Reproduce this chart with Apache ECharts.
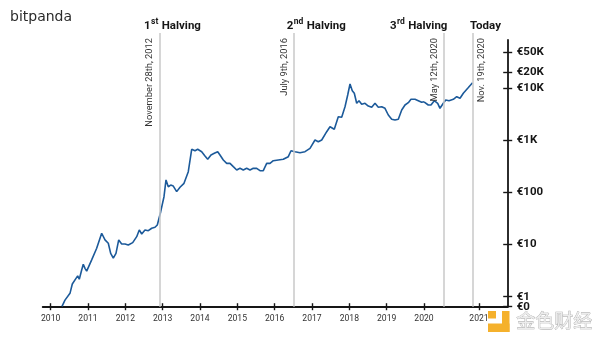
<!DOCTYPE html>
<html>
<head>
<meta charset="utf-8">
<script src="https://cdn.jsdelivr.net/npm/echarts@6/dist/echarts.min.js"></script>
<style>
  html, body { margin: 0; padding: 0; background: #ffffff; }
  #chart { width: 600px; height: 338px; }
</style>
</head>
<body>
<div id="chart"></div>
<script>
// Bitcoin price in euro, decimal-year dates (log price scale)
const dates = [
  2010.303, 2010.383, 2010.517, 2010.579, 2010.678, 2010.723, 2010.766, 2010.830, 2010.873, 2010.919, 2010.964,
  2011.098, 2011.232, 2011.366, 2011.455, 2011.543, 2011.607, 2011.677, 2011.749, 2011.822, 2011.902, 2011.990,
  2012.079, 2012.197, 2012.304, 2012.373, 2012.438, 2012.526, 2012.615, 2012.706, 2012.794, 2012.856, 2012.947,
  2013.035, 2013.089, 2013.150, 2013.215, 2013.284, 2013.375, 2013.464, 2013.571, 2013.686, 2013.777, 2013.866, 2013.938,
  2014.045, 2014.133, 2014.206, 2014.294, 2014.383, 2014.474, 2014.535, 2014.624, 2014.715, 2014.803, 2014.892, 2014.983,
  2015.071, 2015.159, 2015.250, 2015.339, 2015.427, 2015.518, 2015.607, 2015.695, 2015.786, 2015.875, 2015.963,
  2016.097, 2016.231, 2016.365, 2016.437, 2016.544, 2016.678, 2016.812, 2016.946,
  2017.080, 2017.169, 2017.260, 2017.394, 2017.482, 2017.597, 2017.704, 2017.795, 2017.884, 2017.956,
  2018.018, 2018.079, 2018.133, 2018.197, 2018.259, 2018.331, 2018.420, 2018.508, 2018.599, 2018.688, 2018.776, 2018.867, 2018.955,
  2019.044, 2019.135, 2019.223, 2019.312, 2019.403, 2019.491, 2019.580, 2019.652, 2019.759, 2019.847, 2019.938,
  2020.000, 2020.018, 2020.078, 2020.127, 2020.187, 2020.249, 2020.291, 2020.351, 2020.395, 2020.455, 2020.533, 2020.595, 2020.655, 2020.715, 2020.795, 2020.883
];
const pricesEur = [
  0.65, 0.86, 1.16, 1.75, 2.25, 2.5, 2.16, 3.25, 4.2, 3.5, 3.1,
  5.1, 8.5, 16.5, 12.3, 10.6, 6.8, 5.5, 6.8, 12.3, 10.3, 10.3,
  9.8, 10.9, 14.2, 19.1, 16.0, 19.1, 18.5, 20.6, 21.5, 23.8, 42.8,
  83, 174, 129, 139, 133, 104, 126, 150, 251, 675, 634, 675,
  607, 502, 434, 525, 565, 607, 525, 421, 363, 363, 313, 270,
  291, 270, 291, 270, 291, 291, 262, 262, 363, 363, 408,
  421, 434, 487, 634, 607, 581, 607, 705,
  1018, 944, 1018, 1469, 1832, 1633, 2851, 2775, 4434, 7434,
  12100, 8995, 8017, 5153, 5781, 4932, 5153, 4571, 4317, 5153, 4317, 4434, 4130,
  3073, 2541, 2464, 2541, 3830, 4780, 5293, 6150, 6150, 5781, 5385,
  5510, 5530, 4780, 4780, 5781, 5153, 4130, 5153, 5960, 5781, 6150, 6900, 6430, 8017, 10000, 12800
];

const earlyYearTicks = [2010, 2011, 2012, 2013, 2014, 2015, 2016, 2017, 2018, 2019];
const lateYearTicks = [2020, 2021];
const priceTicks = [1, 10, 100, 1000, 10000, 20000, 50000];
const floorTick = [0.643];

const halvingDates = [2012.907, 2016.519, 2020.361];
const halvingNotes = ['November 28th, 2012', 'July 9th, 2016', 'May 12th, 2020'];
const halvingOrdinals = [['1', 'st'], ['2', 'nd'], ['3', 'rd']];
const todayDate = 2020.883;
const todayNote = 'Nov. 19th, 2020';

// The time axis is drawn in two stretches: up to 2020, and the last year widened.
const X_START = 2009.786, X_BREAK = 2020, X_END = 2021.522;
const Y_MIN = 0.6426, Y_MAX = 115240;
// same log scale, cut a little lower: only used for the visible price-axis spine
const Y_SPINE_MAX = 84560;

const early = [], late = [];
dates.forEach((d, i) => {
  if (d <= X_BREAK) early.push([d, pricesEur[i]]);
  if (d >= X_BREAK) late.push([d, pricesEur[i]]);
});

const INK = '#161616';
const LINE_BLUE = '#1c5a9a';
const GUIDE = '#c9c9c9';

// heading text: superscript ordinals raised with bottom padding
const headingRich = {
  n: { fontFamily: 'Roboto', fontWeight: 'bold', fontSize: 11.5, lineHeight: 14, color: INK },
  s: { fontFamily: 'Roboto', fontWeight: 'bold', fontSize: 8.5, lineHeight: 10, padding: [0, 0.5, 9, 0.5], color: INK }
};
const headingShift = [-15.2, -7.4, -53.9, -2.6];

function heading(date, text, shift) {
  return {
    coord: [date, 110000],
    label: { formatter: text, offset: [shift, 0] }
  };
}
function ordinalText(i) {
  return '{n|' + halvingOrdinals[i][0] + '}{s|' + halvingOrdinals[i][1] + '}{n| Halving}';
}

const markPointBase = {
  symbol: 'circle', symbolSize: 1, silent: true,
  itemStyle: { color: 'rgba(0,0,0,0)' },
  label: { show: true, position: 'top', distance: 0, align: 'left', rich: headingRich }
};
const markLineBase = {
  symbol: 'none', silent: true,
  lineStyle: { color: GUIDE, width: 1.5, type: 'solid' },
  label: { show: true, position: 'insideEndTop', color: '#333', fontFamily: 'Roboto', fontSize: 9.3, distance: 5 },
  emphasis: { disabled: true }
};

function xAxisPair(gridIndex, min, max, ticks) {
  const common = { type: 'value', gridIndex, min, max, position: 'bottom', splitLine: { show: false } };
  return [
    Object.assign({}, common, {
      axisLine: { show: true, lineStyle: { color: INK, width: 1.8 } },
      axisTick: { show: true, customValues: ticks, length: 3.5, lineStyle: { color: INK, width: 1.4 } },
      axisLabel: {
        show: true, customValues: ticks, margin: 8, showMinLabel: true, showMaxLabel: true,
        color: '#333', fontFamily: 'Roboto', fontSize: 8.6, formatter: v => String(Math.round(v))
      }
    }),
    Object.assign({}, common, {
      axisLine: { show: false },
      axisTick: { show: true, inside: true, customValues: ticks, length: 3.5, lineStyle: { color: INK, width: 1.4 } },
      axisLabel: { show: false }
    })
  ];
}

function priceLabel(v) {
  if (v < 1) return '€0';
  if (v >= 1000) return '€' + Math.round(v / 1000) + 'K';
  return '€' + Math.round(v);
}

const yCommon = { type: 'log', logBase: 10, min: Y_MIN, max: Y_MAX, splitLine: { show: false } };
const yLabelStyle = { color: INK, fontFamily: 'Roboto', fontWeight: 'bold', fontSize: 11.5, formatter: priceLabel };

const option = {
  backgroundColor: '#ffffff',
  animation: false,
  grid: [
    { left: 42.7, top: 33, width: 381.3, bottom: 31.3 },
    { left: 424, top: 33, width: 83.7, bottom: 31.3 },
    { left: 424, top: 40, width: 83.7, bottom: 31.3 }
  ],
  xAxis: [].concat(
    xAxisPair(0, X_START, X_BREAK, earlyYearTicks),
    xAxisPair(1, X_BREAK, X_END, lateYearTicks),
    [{ type: 'value', gridIndex: 2, min: X_BREAK, max: X_END, show: false }]
  ),
  yAxis: [
    Object.assign({}, yCommon, { gridIndex: 0, show: false }),
    Object.assign({}, yCommon, {
      gridIndex: 1, position: 'right',
      axisLine: { show: false },
      axisTick: { show: true, customValues: priceTicks.concat(floorTick), length: 4.5, lineStyle: { color: INK, width: 1.4 } },
      axisLabel: Object.assign({ show: true, customValues: priceTicks, margin: 9, showMinLabel: true, showMaxLabel: true }, yLabelStyle)
    }),
    // second pass: inward tick halves, plus the floor label
    Object.assign({}, yCommon, {
      gridIndex: 1, position: 'right',
      axisLine: { show: false },
      axisTick: { show: true, inside: true, customValues: priceTicks.concat(floorTick), length: 4.5, lineStyle: { color: INK, width: 1.4 } },
      axisLabel: Object.assign({ show: true, customValues: floorTick, margin: 9, showMinLabel: true }, yLabelStyle)
    }),
    // the spine of the price axis
    Object.assign({}, yCommon, {
      gridIndex: 2, position: 'right', max: Y_SPINE_MAX,
      axisLine: { show: true, lineStyle: { color: INK, width: 1.8 } },
      axisTick: { show: false },
      axisLabel: { show: false }
    })
  ],
  series: [
    {
      type: 'line', xAxisIndex: 0, yAxisIndex: 0, data: early,
      showSymbol: false, symbol: 'none', silent: true,
      lineStyle: { color: LINE_BLUE, width: 1.6 },
      markLine: Object.assign({}, markLineBase, {
        data: [
          { xAxis: halvingDates[0], label: { formatter: halvingNotes[0] } },
          { xAxis: halvingDates[1], label: { formatter: halvingNotes[1] } }
        ]
      }),
      markPoint: Object.assign({}, markPointBase, {
        data: [
          heading(halvingDates[0], ordinalText(0), headingShift[0]),
          heading(halvingDates[1], ordinalText(1), headingShift[1])
        ]
      })
    },
    {
      type: 'line', xAxisIndex: 2, yAxisIndex: 1, data: late,
      showSymbol: false, symbol: 'none', silent: true,
      lineStyle: { color: LINE_BLUE, width: 1.6 },
      markLine: Object.assign({}, markLineBase, {
        data: [
          { xAxis: halvingDates[2], label: { formatter: halvingNotes[2] } },
          { xAxis: todayDate, label: { formatter: todayNote, position: 'insideEndBottom' } }
        ]
      }),
      markPoint: Object.assign({}, markPointBase, {
        data: [
          heading(halvingDates[2], ordinalText(2), headingShift[2]),
          heading(todayDate, '{n|Today}', headingShift[3])
        ]
      })
    }
  ],
  graphic: [
    {
      type: 'text', left: 10, top: 10,
      style: { text: 'bitpanda', font: '500 14px "DejaVu Sans"', fill: '#2b2b2b' }
    },
    {
      type: 'group', left: 488, top: 311, silent: true,
      children: [
        { type: 'rect', shape: { x: 0, y: 0, width: 8, height: 7.5 }, style: { fill: '#f5b12c' } },
        { type: 'rect', shape: { x: 14, y: 0, width: 7.5, height: 21 }, style: { fill: '#f5b12c' } },
        { type: 'rect', shape: { x: 0, y: 12.5, width: 21.5, height: 8.5 }, style: { fill: '#f5b12c' } }
      ]
    },
    {
      type: 'text', left: 516, top: 311, silent: true,
      style: { text: '金色财经', font: '19px "Noto Sans CJK SC"', fill: '#ececec', stroke: '#a8a8a8', lineWidth: 0.7 }
    }
  ]
};

const chart = echarts.init(document.getElementById('chart'), null, { renderer: 'canvas' });
chart.setOption(option);
</script>
</body>
</html>
